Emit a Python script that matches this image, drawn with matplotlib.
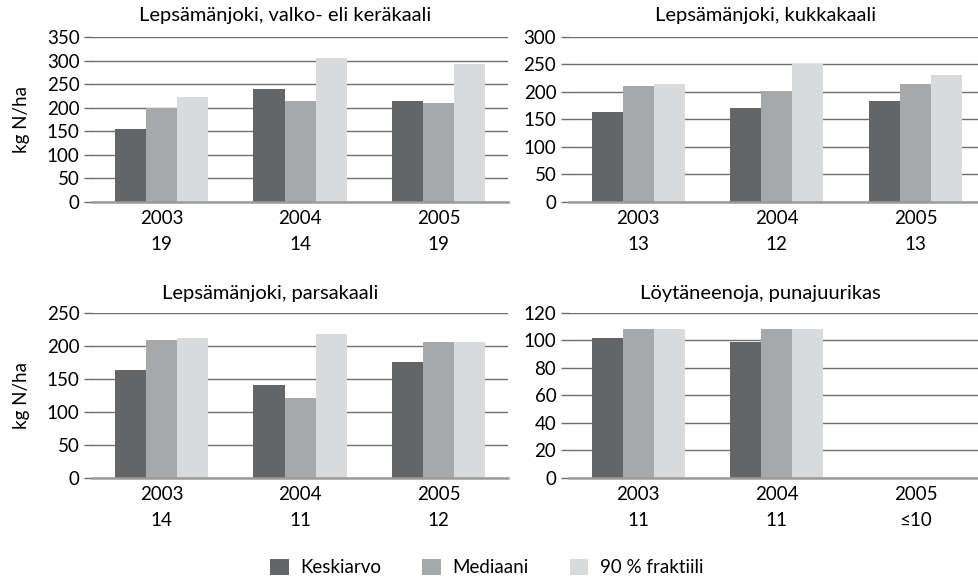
import numpy as np
import matplotlib
matplotlib.use("Agg")
import matplotlib.pyplot as plt
from matplotlib.patches import Patch

plt.rcParams["font.family"] = ["Lato", "DejaVu Sans"]

years = ["2003", "2004", "2005"]
series = ["Keskiarvo", "Mediaani", "90 % fraktiili"]
colors = ["#646567", "#a7a8aa", "#d9dadc"]

titles = [
    "Lepsämänjoki, valko- eli keräkaali",
    "Lepsämänjoki, kukkakaali",
    "Lepsämänjoki, parsakaali",
    "Löytäneenoja, punajuurikas",
]
counts = [
    ["19", "14", "19"],
    ["13", "12", "13"],
    ["14", "11", "12"],
    ["11", "11", "≤10"],
]
# keskiarvo, mediaani, 90 % fraktiili per year
keraakaali = [[154, 240, 215], [200, 215, 210], [223, 305, 293]]
kukkakaali = [[164, 171, 184], [210, 201, 215], [215, 250, 230]]
parsakaali = [[164, 141, 175], [209, 121, 206], [212, 218, 206]]
punajuurikas = [[102, 99, np.nan], [108, 108, np.nan], [108, 108, np.nan]]
data = [keraakaali, kukkakaali, parsakaali, punajuurikas]

ymax = [350, 300, 250, 120]
ystep = [50, 50, 50, 20]

fig = plt.figure(figsize=(9.79, 5.85), dpi=100)
positions = [
    [0.094, 0.6547, 0.425, 0.2821],
    [0.581, 0.6547, 0.425, 0.2821],
    [0.094, 0.1829, 0.425, 0.2821],
    [0.581, 0.1829, 0.425, 0.2821],
]
title_x = [0.291, 0.782, 0.276, 0.777]
title_y = [0.974, 0.974, 0.499, 0.499]

fs = 13.5
x = np.arange(len(years))
w = 0.224
for i, ax_pos in enumerate(positions):
    ax = fig.add_axes(ax_pos)
    for j, vals in enumerate(data[i]):
        ax.bar(x + (j - 1) * w, vals, width=w, color=colors[j], zorder=3)
    ax.set_xlim(-0.5, 2.5)
    ax.set_ylim(0, ymax[i])
    ax.set_yticks(np.arange(0, ymax[i] + 1, ystep[i]))
    ax.yaxis.grid(True, color="#6e6e6e", linewidth=1.0, zorder=0)
    for s in ["top", "right", "left"]:
        ax.spines[s].set_visible(False)
    ax.spines["bottom"].set_color("#9a9a9a")
    ax.spines["bottom"].set_linewidth(1.8)
    ax.spines["bottom"].set_zorder(4)
    ax.tick_params(axis="y", length=6, width=1.0, color="#6e6e6e", pad=3, labelsize=fs)
    ax.tick_params(axis="x", length=0, pad=6, labelsize=fs)
    ax.set_xticks(x)
    labels = ax.set_xticklabels([y + "\n" + c for y, c in zip(years, counts[i])])
    for lb in labels:
        lb.set_linespacing(1.6)
    if i % 2 == 0:
        ax.set_ylabel("kg N/ha", fontsize=13.5, labelpad=12)
    fig.text(title_x[i], title_y[i], titles[i], ha="center", va="center", fontsize=14.5)

handles = [Patch(facecolor=c, edgecolor="none") for c in colors]
fig.legend(handles, series, loc="lower center", bbox_to_anchor=(0.497, -0.014), ncol=3,
           frameon=False, fontsize=fs, handlelength=1.0, handleheight=1.0,
           handletextpad=0.6, columnspacing=2.2)

fig.savefig("out.png", dpi=100)
